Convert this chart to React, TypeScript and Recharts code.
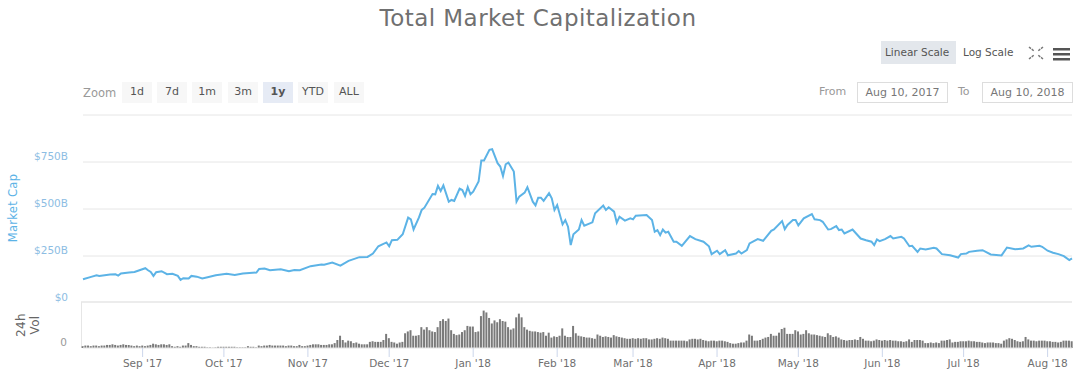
import React from 'react';
import { LineChart, Line, BarChart, Bar, XAxis, YAxis, CartesianGrid } from 'recharts';

const FONT = '"DejaVu Sans", sans-serif';

// days since Aug 10 2017, market cap in $B
const capDays = [
  0, 3, 5, 6, 10, 12, 13, 14, 17, 19, 23, 24, 25, 26, 27, 29, 31, 33, 35, 36, 37, 39, 40, 42, 44, 46, 49, 53, 56, 59,
  64, 65, 67, 69, 73, 76, 78, 80, 84, 88, 89, 92, 95, 98, 102, 105, 107, 109, 112, 113, 114, 116, 118, 120, 121, 122,
  124, 125, 126, 129, 130, 131, 132, 133, 135, 136, 137, 139, 140, 141, 142, 143, 144, 146, 147, 148, 150, 151, 153,
  154, 155, 156, 157, 159, 160, 161, 163, 164, 166, 167, 168, 169, 170, 172, 173, 174, 175, 177, 178, 179, 180, 181,
  183, 184, 185, 188, 189, 192, 193, 194, 196, 197, 198, 200, 202, 203, 204, 208, 210, 211, 212, 213, 214, 215, 216,
  218, 219, 221, 224, 226, 229, 231, 232, 234, 235, 237, 238, 241, 242, 243, 245, 246, 249, 251, 254, 255, 258, 259,
  260, 262, 263, 264, 266, 269, 270, 272, 273, 275, 276, 278, 279, 280, 281, 284, 287, 289, 291, 292, 293, 294, 296,
  298, 299, 302, 303, 305, 306, 308, 309, 311, 314, 315, 317, 320, 323, 324, 326, 327, 330, 332, 335, 339, 341, 344,
  347, 349, 350, 353, 354, 356, 358, 360, 362, 364, 365,
];
const capValues = [
  126, 139, 148, 144, 151, 153, 146, 157, 162, 165, 185, 174, 165, 144, 164, 169, 153, 155, 144, 123, 132, 130, 144, 140, 130, 137, 148, 155, 149, 157,
  162, 181, 183, 174, 180, 169, 176, 174, 196, 205, 203, 215, 199, 224, 244, 245, 263, 302, 322, 302, 334, 336, 366, 454, 445, 391,
  455, 495, 507, 580, 578, 623, 596, 626, 539, 548, 543, 608, 601, 569, 616, 578, 592, 646, 758, 758, 815, 818, 744,
  726, 676, 738, 747, 699, 539, 566, 587, 616, 539, 519, 560, 560, 543, 584, 557, 495, 521, 418, 441, 406, 308, 366,
  391, 441, 411, 429, 477, 518, 495, 509, 486, 427, 459, 438, 450, 445, 464, 468, 441, 379, 388, 361, 391, 374, 379,
  326, 326, 304, 356, 340, 326, 302, 260, 278, 260, 281, 254, 263, 276, 263, 281, 317, 340, 331, 384, 391, 436, 393,
  415, 441, 441, 413, 450, 473, 445, 441, 432, 391, 393, 409, 388, 391, 370, 391, 343, 334, 326, 308, 338, 329, 340,
  356, 343, 352, 343, 302, 304, 272, 290, 285, 294, 290, 260, 254, 242, 260, 263, 272, 278, 281, 258, 253, 295, 286,
  290, 306, 299, 304, 299, 278, 267, 260, 249, 228, 237,
];
const capData = capDays.map((day, i) => ({ day, cap: capValues[i] }));

// one bar a day, $B
const volValues = [
  3, 4, 4, 3, 4, 4, 3, 4, 4, 5,
  5, 6, 5, 4, 5, 6, 5, 5, 4, 3,
  4, 3, 4, 3, 4, 5, 7, 6, 5, 6,
  6, 5, 6, 3, 2, 3, 2, 4, 4, 8,
  5, 3, 3, 2, 2, 2, 1, 1, 0.5, 1,
  2, 2, 2, 2, 2, 2, 2, 1, 1, 1,
  1, 3, 2, 2, 1, 4, 3, 4, 4, 5,
  4, 4, 4, 4, 4, 3, 4, 4, 3, 3,
  5, 3, 3, 4, 5, 6, 6, 6, 5, 5,
  5, 6, 6, 8, 13, 20, 13, 9, 12, 11,
  8, 9, 7, 6, 6, 6, 10, 11, 10, 10,
  10, 13, 23, 16, 10, 9, 7, 9, 10, 24,
  27, 29, 20, 20, 21, 34, 30, 34, 29, 27,
  26, 34, 44, 47, 44, 48, 29, 23, 21, 22,
  26, 29, 36, 35, 35, 26, 27, 52, 61, 58,
  49, 40, 45, 42, 47, 44, 43, 34, 30, 32,
  50, 56, 50, 34, 30, 28, 27, 27, 26, 25,
  26, 20, 25, 17, 19, 18, 20, 32, 20, 18,
  18, 36, 24, 20, 19, 18, 17, 17, 16, 15,
  22, 20, 18, 19, 18, 17, 21, 19, 18, 17,
  16, 15, 15, 16, 15, 16, 15, 16, 16, 14,
  14, 15, 16, 15, 17, 16, 15, 12, 12, 12,
  12, 12, 12, 11, 14, 15, 15, 14, 15, 13,
  12, 11, 12, 12, 11, 12, 12, 11, 10, 8,
  7, 7, 8, 9, 9, 12, 22, 20, 12, 12,
  13, 15, 17, 18, 23, 20, 20, 25, 31, 33,
  23, 23, 23, 29, 27, 22, 23, 29, 24, 22,
  22, 21, 20, 19, 18, 24, 21, 18, 19, 17,
  14, 13, 12, 13, 13, 14, 13, 18, 15, 12,
  12, 11, 12, 14, 13, 12, 13, 12, 13, 12,
  12, 11, 11, 10, 11, 14, 10, 13, 13, 13,
  12, 8, 8, 9, 8, 9, 8, 12, 12, 13,
  14, 9, 10, 10, 11, 11, 11, 12, 11, 11,
  10, 10, 9, 8, 9, 9, 9, 8, 8, 7,
  12, 14, 16, 15, 13, 11, 10, 11, 18, 14,
  12, 12, 11, 12, 12, 12, 11, 11, 10, 10,
  9, 10, 12, 12, 12, 11,
];
const volData = volValues.map((vol, day) => ({ day, vol }));

const monthDays = [22, 52, 83, 113, 144, 175, 203, 234, 264, 295, 325, 356];
const monthLabels = ["Sep '17", "Oct '17", "Nov '17", "Dec '17", "Jan '18", "Feb '18", "Mar '18", "Apr '18", "May '18", "Jun '18", "Jul '18", "Aug '18"];
const capTicks = [0, 250, 500, 750, 1000];
const gridValues = [250, 500, 750, 1000];
const zoomButtons = ['1d', '7d', '1m', '3m', '1y', 'YTD', 'ALL'];
const zoomLefts = [122, 157, 192, 228, 263, 298, 334];

const CapTick = ({ x, y, payload }: any) =>
  payload.value === 1000 ? null : (
    <text x={x + 6} y={y - 2} textAnchor="end" fontSize={10.5} fontFamily={FONT} fill="#8dbde3">
      {payload.value === 0 ? '$0' : '$' + payload.value + 'B'}
    </text>
  );

const abs = (left: number, top: number, extra: React.CSSProperties = {}): React.CSSProperties => ({
  position: 'absolute',
  left,
  top,
  fontFamily: FONT,
  whiteSpace: 'nowrap',
  ...extra,
});

const App = () => (
  <div style={{ position: 'absolute', left: 0, top: 0, width: 1080, height: 377, background: '#fff', overflow: 'hidden' }}>
    <div style={abs(340, 5, { fontSize: 23, color: '#707070', width: 396, textAlign: 'center', letterSpacing: 0.45 })}>
      Total Market Capitalization
    </div>

    <div style={abs(881, 41, { width: 75, height: 23, background: '#e3e7ec' })} />
    <div style={abs(885, 46, { fontSize: 10.5, color: '#555' })}>Linear Scale</div>
    <div style={abs(963, 46, { fontSize: 10.5, color: '#555' })}>Log Scale</div>
    <svg style={abs(1026, 44)} width={48} height={20}>
      <g stroke="#777" strokeWidth={1.5} strokeDasharray="2.5 1">
        <path d="M3 3 L8 7 M17 3 L12 7 M3 15 L8 11 M17 15 L12 11" />
      </g>
      <g fill="#555">
        <rect x={27} y={4} width={17} height={2.5} />
        <rect x={27} y={9} width={17} height={2.5} />
        <rect x={27} y={14} width={17} height={2.5} />
      </g>
    </svg>

    <div style={abs(83, 86, { fontSize: 11.5, color: '#999' })}>Zoom</div>
    {zoomButtons.map((label, i) => (
      <div
        key={label}
        style={abs(zoomLefts[i], 82, {
          width: 30,
          height: 21,
          lineHeight: '19px',
          textAlign: 'center',
          fontSize: 11,
          color: '#555',
          fontWeight: label === '1y' ? 700 : 400,
          background: label === '1y' ? '#e6ebf5' : '#f7f7f7',
        })}
      >
        {label}
      </div>
    ))}

    <div style={abs(819, 85, { fontSize: 11, color: '#999' })}>From</div>
    <div style={abs(857, 82, { width: 89, height: 19, border: '1px solid #ddd', textAlign: 'center', lineHeight: '19px', fontSize: 11, color: '#777' })}>Aug 10, 2017</div>
    <div style={abs(958, 85, { fontSize: 11, color: '#999' })}>To</div>
    <div style={abs(982, 82, { width: 89, height: 19, border: '1px solid #ddd', textAlign: 'center', lineHeight: '19px', fontSize: 11, color: '#777' })}>Aug 10, 2018</div>

    <div style={abs(13, 208, { fontSize: 11.5, color: '#5cb3e6', letterSpacing: 0.3, transform: 'translate(-50%, -50%) rotate(-90deg)' })}>Market Cap</div>
    <div style={abs(21, 325, { fontSize: 12, color: '#666', letterSpacing: 0.3, transform: 'translate(-50%, -50%) rotate(-90deg)' })}>24h</div>
    <div style={abs(35, 325, { fontSize: 12, color: '#666', letterSpacing: 0.3, transform: 'translate(-50%, -50%) rotate(-90deg)' })}>Vol</div>

    <div style={abs(0, 0)}>
      <LineChart width={1080} height={303} data={capData} margin={{ top: 115, right: 8, bottom: 0, left: 0 }}>
        <CartesianGrid horizontal vertical={false} stroke="#e6e6e6" horizontalValues={gridValues} />
        <XAxis dataKey="day" type="number" domain={[0, 365]} hide />
        <YAxis
          width={83}
          domain={[0, 1000]}
          ticks={capTicks}
          axisLine={false}
          tickLine={false}
          tick={CapTick}
          tickMargin={15}
          interval={0}
        />
        <Line dataKey="cap" type="linear" stroke="#5cb3e6" strokeWidth={2} dot={false} isAnimationActive={false} />
      </LineChart>
    </div>

    <div style={abs(81, 301, { width: 991, height: 2, background: '#ececec' })} />
    <div style={abs(81, 302, { width: 1, height: 46, background: '#e6e6e6' })} />

    <div style={abs(0, 302)}>
      <BarChart width={1080} height={75} data={volData} margin={{ top: 0, right: 8, bottom: 0, left: 0 }} barCategoryGap={0}>
        <XAxis
          dataKey="day"
          type="number"
          domain={[0, 365]}
          ticks={monthDays}
          tickFormatter={(d: number) => monthLabels[monthDays.indexOf(d)]}
          interval={0}
          axisLine={{ stroke: '#e6e6e6' }}
          tickLine={{ stroke: '#ccd6eb' }}
          tickSize={9}
          height={29}
          tick={{ fontSize: 10.5, fontFamily: FONT, fill: '#707070', dy: 1 }}
        />
        <YAxis
          width={83}
          domain={[0, 75]}
          ticks={[0]}
          axisLine={false}
          tickLine={false}
          tick={{ fontSize: 10.5, fontFamily: FONT, fill: '#999', dy: -6 }}
          tickMargin={10}
        />
        <Bar dataKey="vol" fill="#7a7a7a" barSize={2} isAnimationActive={false} />
      </BarChart>
    </div>
  </div>
);

export default App;
